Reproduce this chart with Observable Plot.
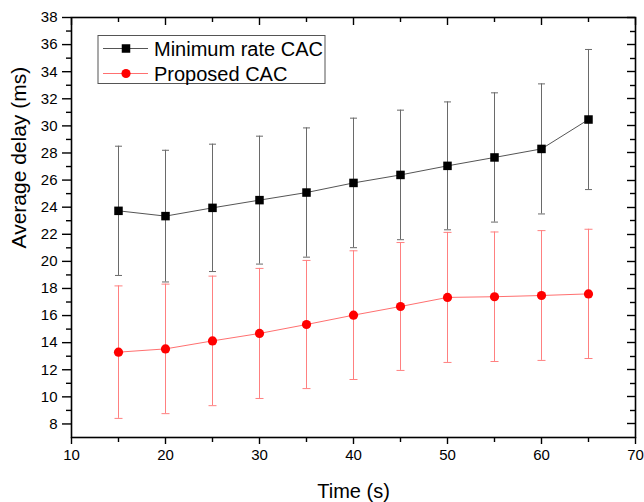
<!DOCTYPE html>
<html>
<head>
<meta charset="utf-8">
<script src="https://cdn.jsdelivr.net/npm/d3@7"></script>
<script src="https://cdn.jsdelivr.net/npm/@observablehq/plot@0.6"></script>
<style>
  html, body { margin: 0; padding: 0; background: #fff; }
  #chart { width: 644px; height: 502px; }
  svg { font-family: "Liberation Sans", Arial, sans-serif; }
</style>
</head>
<body>
<div id="chart"></div>
<script>
// ---- data ----
const times = [15, 20, 25, 30, 35, 40, 45, 50, 55, 60, 65];
const minRateDelay = [23.73, 23.34, 23.95, 24.52, 25.08, 25.79, 26.38, 27.05, 27.67, 28.3, 30.47];
const minRateErr   = [4.77, 4.86, 4.7, 4.72, 4.77, 4.78, 4.78, 4.72, 4.77, 4.8, 5.17];
const proposedDelay = [13.3, 13.54, 14.13, 14.68, 15.34, 16.03, 16.67, 17.34, 17.39, 17.48, 17.6];
const proposedErr   = [4.89, 4.78, 4.78, 4.8, 4.73, 4.75, 4.72, 4.8, 4.78, 4.79, 4.77];
const seriesNames = ["Minimum rate CAC", "Proposed CAC"];
const xMajor = [10, 20, 30, 40, 50, 60, 70];
const xMinor = [15, 25, 35, 45, 55, 65];
const yMajor = [8, 10, 12, 14, 16, 18, 20, 22, 24, 26, 28, 30, 32, 34, 36, 38];
const yMinor = [9, 11, 13, 15, 17, 19, 21, 23, 25, 27, 29, 31, 33, 35, 37];
const xTitle = "Time (s)";
const yTitle = "Average delay (ms)";

const minRate = times.map((t, i) => ({x: t, y: minRateDelay[i], lo: minRateDelay[i] - minRateErr[i], hi: minRateDelay[i] + minRateErr[i]}));
const proposed = times.map((t, i) => ({x: t, y: proposedDelay[i], lo: proposedDelay[i] - proposedErr[i], hi: proposedDelay[i] + proposedErr[i]}));

const W = 644, H = 502;
const M = {top: 17, right: 9, bottom: 65, left: 71};

// horizontal cap symbol for error bars
const capSymbol = {
  draw(ctx, size) {
    const w = Math.sqrt(size / Math.PI);
    ctx.moveTo(-w, 0);
    ctx.lineTo(w, 0);
  }
};

const BLACK_ERR = "#6a6a6a", BLACK_LINE = "#555", RED_ERR = "#ff8080", RED_LINE = "#ff7070";
const TW = 1.4;
const noLabel = () => "";

const plot = Plot.plot({
  width: W, height: H,
  marginTop: M.top, marginRight: M.right, marginBottom: M.bottom, marginLeft: M.left,
  style: {fontFamily: '"Liberation Sans", Arial, sans-serif', fontSize: "15px", background: "#fff", color: "#000"},
  x: {domain: [10, 70], label: null},
  y: {domain: [7, 38], label: null},
  marks: [
    // axes (outward, left & bottom)
    Plot.axisX({ticks: xMajor, tickSize: 7, tickPadding: 5, fontSize: 15, label: null, strokeWidth: TW}),
    Plot.axisX({ticks: xMinor, tickSize: 5, tickFormat: noLabel, label: null, strokeWidth: TW}),
    Plot.axisY({ticks: yMajor, tickSize: 9, tickPadding: 5, fontSize: 15, label: null, strokeWidth: TW}),
    Plot.axisY({ticks: yMinor, tickSize: 5, tickFormat: noLabel, label: null, strokeWidth: TW}),

    // red series error bars
    Plot.ruleX(proposed, {x: "x", y1: "lo", y2: "hi", stroke: RED_ERR, strokeWidth: 1}),
    Plot.dot(proposed, {x: "x", y: "lo", symbol: capSymbol, r: 4, stroke: RED_ERR, fill: "none", strokeWidth: 1}),
    Plot.dot(proposed, {x: "x", y: "hi", symbol: capSymbol, r: 4, stroke: RED_ERR, fill: "none", strokeWidth: 1}),
    // black series error bars
    Plot.ruleX(minRate, {x: "x", y1: "lo", y2: "hi", stroke: BLACK_ERR, strokeWidth: 1}),
    Plot.dot(minRate, {x: "x", y: "lo", symbol: capSymbol, r: 3.5, stroke: BLACK_ERR, fill: "none", strokeWidth: 1}),
    Plot.dot(minRate, {x: "x", y: "hi", symbol: capSymbol, r: 3.5, stroke: BLACK_ERR, fill: "none", strokeWidth: 1}),

    // lines
    Plot.line(proposed, {x: "x", y: "y", stroke: RED_LINE, strokeWidth: 1}),
    Plot.line(minRate, {x: "x", y: "y", stroke: BLACK_LINE, strokeWidth: 1}),
    // markers
    Plot.dot(proposed, {x: "x", y: "y", symbol: "circle", r: 4.6, fill: "#ff0000", stroke: "none"}),
    Plot.dot(minRate, {x: "x", y: "y", symbol: "square", r: 4.8, fill: "#000", stroke: "none"}),

    Plot.frame({stroke: "#000", strokeWidth: 1.6}),

    // axis titles
    Plot.text([xTitle], {frameAnchor: "bottom", lineAnchor: "bottom", dy: 60, fontSize: 20, fill: "#000"}),
    Plot.text([yTitle], {frameAnchor: "left", rotate: -90, dx: -52, dy: 21, fontSize: 21, fill: "#000"})
  ]
});

document.getElementById("chart").appendChild(plot);

const svg = d3.select(plot);

// mirrored inward ticks on top and right, positioned through Plot's own scales
try {
  const sx = plot.scale("x"), sy = plot.scale("y");
  const frameTop = M.top, frameRight = W - M.right;
  const mirror = svg.append("g").attr("class", "mirror-ticks").attr("stroke", "#000").attr("stroke-width", TW);
  [[xMajor, 8], [xMinor, 5]].forEach(([vals, len]) => vals.forEach(v => {
    const px = Math.round(sx.apply(v)) + 0.5;
    mirror.append("line").attr("x1", px).attr("x2", px).attr("y1", frameTop).attr("y2", frameTop + len);
  }));
  [[yMajor, 8], [yMinor, 5]].forEach(([vals, len]) => vals.forEach(v => {
    const py = Math.round(sy.apply(v)) + 0.5;
    mirror.append("line").attr("x1", frameRight).attr("x2", frameRight - len).attr("y1", py).attr("y2", py);
  }));
} catch (e) { console.error(e); }

// legend drawn inside the same SVG
const lg = svg.append("g").attr("class", "legend").attr("text-anchor", "start");
lg.append("rect").attr("x", 98).attr("y", 35.5).attr("width", 227).attr("height", 48)
  .attr("fill", "#fff").attr("stroke", "#555").attr("stroke-width", 1);
const rows = [
  {name: seriesNames[0], y: 48.5, line: BLACK_LINE, marker: "square", color: "#000"},
  {name: seriesNames[1], y: 73.5, line: RED_LINE, marker: "circle", color: "#ff0000"}
];
rows.forEach(r => {
  lg.append("line").attr("x1", 103).attr("x2", 148).attr("y1", r.y).attr("y2", r.y)
    .attr("stroke", r.line).attr("stroke-width", 1);
  if (r.marker === "square") {
    lg.append("rect").attr("x", 126 - 4.25).attr("y", r.y - 4.25).attr("width", 8.5).attr("height", 8.5).attr("fill", r.color);
  } else {
    lg.append("circle").attr("cx", 126).attr("cy", r.y).attr("r", 4.6).attr("fill", r.color);
  }
  lg.append("text").attr("x", 154).attr("y", r.y + 7).attr("font-size", 20).attr("fill", "#000")
    .attr("text-anchor", "start").text(r.name);
});
</script>
</body>
</html>
